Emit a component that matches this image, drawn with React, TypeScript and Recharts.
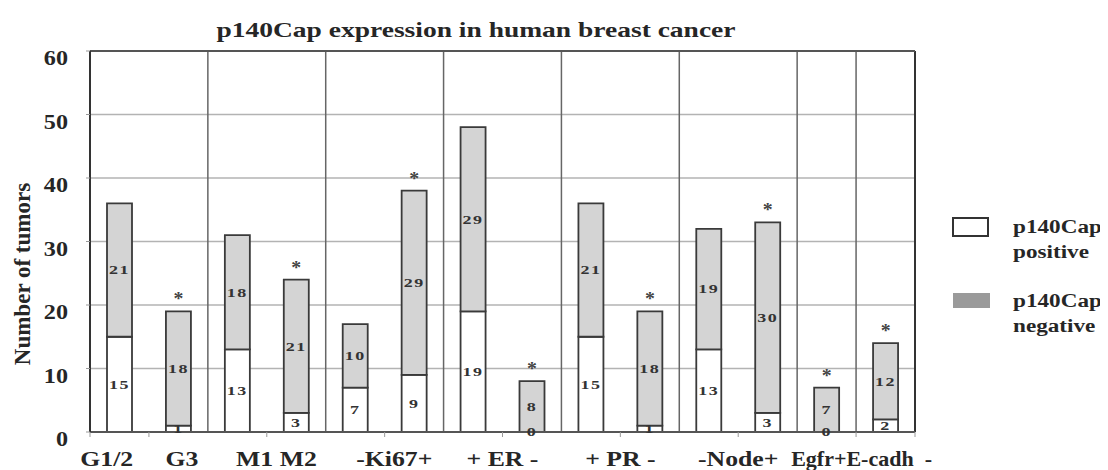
import React from "react";
import {
  BarChart,
  Bar,
  XAxis,
  YAxis,
  CartesianGrid,
  ReferenceLine,
  LabelList,
} from "recharts";

// tumor groups, one bar each
const CATEGORIES = [
  "G1/2", "G3", "M1", "M2", "Ki67-", "Ki67+", "ER+",
  "ER-", "PR+", "PR-", "Node-", "Node+", "Egfr+", "E-cadh-",
];
const POSITIVE = [15, 1, 13, 3, 7, 9, 19, 0, 15, 1, 13, 3, 0, 2];
const NEGATIVE = [21, 18, 18, 21, 10, 29, 29, 8, 21, 18, 19, 30, 7, 12];
const STARRED = [
  false, true, false, true, false, true, false,
  true, false, true, false, true, true, true,
];

const Y_TICKS = [0, 10, 20, 30, 40, 50, 60];
// axis labels sit under each pair of bars
const PAIR_TICKS = [0, 1, 3, 5, 7, 9, 11, 13, 14];
const PAIR_LABELS = [
  "",
  "G1/2     G3   ",
  "   M1 M2",
  "   -Ki67+",
  "+ ER -",
  "+ PR -",
  "-Node+",
  "  Egfr+E-cadh  -",
  "",
];
const GROUP_EDGES = [2, 4, 6, 8, 10, 12, 13];

const data = CATEGORIES.map((name, i) => ({
  name,
  slot: i + 0.5,
  positive: POSITIVE[i],
  negative: NEGATIVE[i],
  // empty positive segments still get their "0" printed
  zero: POSITIVE[i] === 0 ? "0" : "",
  star: STARRED[i] ? "*" : "",
}));

const SERIF = "'Liberation Serif', 'Times New Roman', Times, serif";
const INK = "#262626";

// the source figure is stretched sideways, so text is scaled on x
function Stretch({ x, y, sx, children, style, ...rest }: any) {
  return (
    <text
      transform={`translate(${x},${y}) scale(${sx},1)`}
      style={{ fontFamily: SERIF, fontWeight: 700, ...style }}
      fill={INK}
      {...rest}
    >
      {children}
    </text>
  );
}

const yTick = (p: any) => (
  <Stretch x={p.x} y={p.y + 14} sx={1.15} fontSize={21} textAnchor="end">
    {p.payload.value}
  </Stretch>
);

const pairTick = (p: any) => {
  const i = PAIR_TICKS.indexOf(p.payload.value);
  const raw = PAIR_LABELS[i] ?? "";
  if (!raw) return null;
  // the long last label is squeezed in the original
  const sx = raw.trim().length > 12 ? 1.0 : 1.17;
  return (
    <Stretch x={p.x} y={p.y + 27} sx={sx} fontSize={22} textAnchor="middle">
      {raw.replace(/ /g, "\u00a0")}
    </Stretch>
  );
};

const numText = (cx: number, cy: number, value: any) => (
  <Stretch
    x={cx}
    y={cy}
    sx={1.5}
    fontSize={12}
    letterSpacing={1}
    textAnchor="middle"
    dominantBaseline="central"
    fill="#333"
  >
    {value}
  </Stretch>
);

const segLabel = (p: any) => {
  const { x, y, width, height, value } = p;
  return numText(x + width / 2, y + height / 2, value);
};

const zeroLabel = (p: any) => {
  const { x, y, width, height, value } = p;
  if (!value) return null;
  return numText(x + width / 2, y + height, value);
};

const starLabel = (p: any) => {
  const { x, y, width, value } = p;
  if (!value) return null;
  return (
    <Stretch x={x + width / 2} y={y - 6} sx={1.1} fontSize={18} textAnchor="middle" fill="#444">
      {value}
    </Stretch>
  );
};

export default function App() {
  return (
    <div style={{ position: "relative", width: 1100, height: 462 }}>
      <BarChart
        width={1100}
        height={462}
        data={data}
        margin={{ top: 43, right: 193, bottom: 0, left: 20 }}
        barSize={25}
      >
        <CartesianGrid vertical={false} stroke="#b3b3b3" strokeWidth={1.5} />
        <XAxis xAxisId="cat" dataKey="name" hide height={0} />
        <XAxis
          xAxisId="pairs"
          dataKey="slot"
          type="number"
          domain={[0, 14]}
          ticks={PAIR_TICKS}
          interval={0}
          height={38}
          tickSize={5}
          tickMargin={2}
          tick={pairTick}
          tickLine={{ stroke: "#999" }}
          axisLine={{ stroke: "#555", strokeWidth: 2 }}
          allowDataOverflow
        />
        <YAxis
          domain={[0, 60]}
          ticks={Y_TICKS}
          width={62}
          tickSize={4}
          tickMargin={18}
          tick={yTick}
          tickLine={{ stroke: "#999" }}
          axisLine={{ stroke: "#333", strokeWidth: 2 }}
        />
        {GROUP_EDGES.map((e) => (
          <ReferenceLine key={e} xAxisId="pairs" x={e} stroke="#666" strokeWidth={1.5} />
        ))}
        <ReferenceLine xAxisId="pairs" x={14} stroke="#333" strokeWidth={2} />
        <ReferenceLine xAxisId="pairs" y={60} stroke="#555" strokeWidth={2} />
        <Bar
          xAxisId="cat"
          dataKey="positive"
          stackId="a"
          fill="#ffffff"
          stroke="#3a3a3a"
          strokeWidth={1.8}
          isAnimationActive={false}
        >
          <LabelList dataKey="positive" content={segLabel} />
        </Bar>
        <Bar
          xAxisId="cat"
          dataKey="negative"
          stackId="a"
          fill="#d4d4d4"
          stroke="#3a3a3a"
          strokeWidth={1.8}
          isAnimationActive={false}
        >
          <LabelList dataKey="negative" content={segLabel} />
          <LabelList dataKey="zero" content={zeroLabel} />
          <LabelList dataKey="star" content={starLabel} />
        </Bar>
      </BarChart>

      <svg
        width={1100}
        height={462}
        style={{ position: "absolute", left: 0, top: 0, pointerEvents: "none" }}
      >
        <Stretch x={468} y={29} sx={1.25} fontSize={22} textAnchor="middle">
          p140Cap expression in human breast cancer
        </Stretch>
        <text
          transform="translate(14,266) rotate(-90)"
          textAnchor="middle"
          dominantBaseline="central"
          style={{ fontFamily: SERIF, fontWeight: 700 }}
          fontSize={23}
          fill={INK}
        >
          Number of tumors
        </text>
        <rect x={945} y={210} width={35} height={18} fill="#fff" stroke="#333" strokeWidth={2} />
        <Stretch x={1005} y={225} sx={1.22} fontSize={19}>p140Cap</Stretch>
        <Stretch x={1005} y={250} sx={1.22} fontSize={19}>positive</Stretch>
        <rect x={945} y={285} width={37} height={15} fill="#9a9a9a" />
        <Stretch x={1005} y={299} sx={1.22} fontSize={19}>p140Cap</Stretch>
        <Stretch x={1005} y={324} sx={1.22} fontSize={19}>negative</Stretch>
      </svg>
    </div>
  );
}
